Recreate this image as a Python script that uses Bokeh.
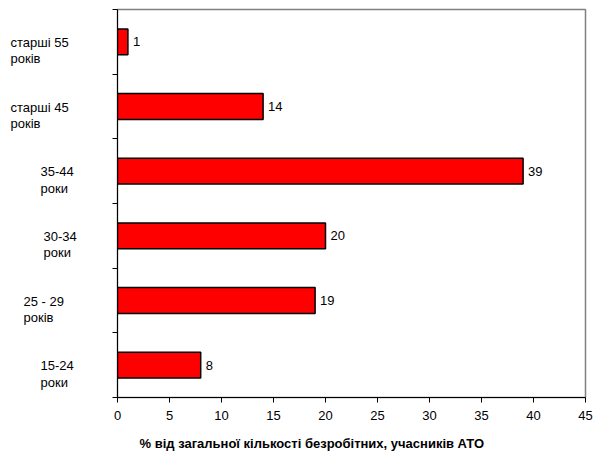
from bokeh.plotting import figure
from bokeh.models import Range1d, FixedTicker, ColumnDataSource, Label
from bokeh.layouts import row, column
from bokeh.core.properties import value
from bokeh.embed import file_html
from bokeh.resources import INLINE

# Data (bottom to top)
categories = ["15-24\nроки", "25 - 29\nроків", "30-34\nроки", "35-44\nроки", "старші 45\nроків", "старші 55\nроків"]
values = [8, 19, 20, 39, 14, 1]
x_ticks = [0, 5, 10, 15, 20, 25, 30, 35, 40, 45]
x_title = "% від загальної кількості безробітних, учасників АТО"

# styles: left edge of each category label (pixels in the label panel)
label_left = [40, 23, 43, 40, 10, 10]
FONT = "Liberation Sans"
FS = "13px"
LEFT_W = 100
W, H = 595, 452
TITLE_H = 25
TOP_H = H - TITLE_H

centers = [i + 0.5 for i in range(len(categories))]
src = ColumnDataSource(dict(y=centers, v=values, t=[str(v) for v in values]))
lab_src = ColumnDataSource(dict(x=label_left, y=centers, t=categories))

yr = Range1d(0, len(categories))

# label panel
lp = figure(width=LEFT_W, height=TOP_H, output_backend="svg", toolbar_location=None,
            x_range=Range1d(0, LEFT_W), y_range=yr,
            x_axis_location=None, y_axis_location=None,
            min_border_left=0, min_border_right=0, min_border_top=9, min_border_bottom=30)
lp.xgrid.visible = False
lp.ygrid.visible = False
lp.outline_line_color = None
lp.text(x="x", y="y", text="t", source=lab_src, text_baseline="top", text_align="left",
        y_offset=-7, text_font=value(FONT), text_font_size=FS, text_color="black",
        text_line_height=1.1)

# main chart
p = figure(width=W - LEFT_W, height=TOP_H, output_backend="svg", toolbar_location=None,
           x_range=Range1d(0, 45), y_range=yr,
           min_border_left=117 - LEFT_W, min_border_right=10, min_border_top=9, min_border_bottom=30)
p.xgrid.visible = False
p.ygrid.visible = False
p.outline_line_color = "#808080"
p.outline_line_width = 1.5

p.hbar(y="y", right="v", left=0, height=0.4, source=src,
       fill_color="#FF0000", line_color="black", line_width=1.5)
p.text(x="v", y="y", text="t", source=src, x_offset=5, text_baseline="middle",
       text_align="left", text_font=value(FONT), text_font_size=FS, text_color="black")

xa = p.xaxis[0]
xa.ticker = FixedTicker(ticks=x_ticks, minor_ticks=[])
xa.major_tick_out = 5
xa.major_tick_in = 0
xa.minor_tick_out = 0
xa.axis_line_color = "black"
xa.major_tick_line_color = "black"
xa.major_label_text_font = FONT
xa.major_label_text_font_size = FS
xa.major_label_text_color = "black"
xa.major_label_standoff = 8

ya = p.yaxis[0]
ya.ticker = FixedTicker(ticks=[], minor_ticks=list(range(len(categories) + 1)))
ya.minor_tick_out = 5
ya.minor_tick_in = 0
ya.minor_tick_line_color = "black"
ya.major_tick_out = 0
ya.axis_line_color = "black"
ya.major_label_text_font_size = "0px"

# x-axis title strip
bp = figure(width=W, height=TITLE_H, output_backend="svg", toolbar_location=None,
            x_axis_location=None, y_axis_location=None,
            min_border_left=0, min_border_right=0, min_border_top=0, min_border_bottom=0)
bp.xgrid.visible = False
bp.ygrid.visible = False
bp.outline_line_color = None
bp.add_layout(Label(x=139, x_units="screen", y=9, y_units="screen", text=x_title,
                    text_font=FONT, text_font_size=FS, text_font_style="bold",
                    text_color="black", text_baseline="alphabetic"))

layout = column(row(lp, p, spacing=0), bp, spacing=0)
open("out.html", "w").write(file_html(layout, INLINE))
